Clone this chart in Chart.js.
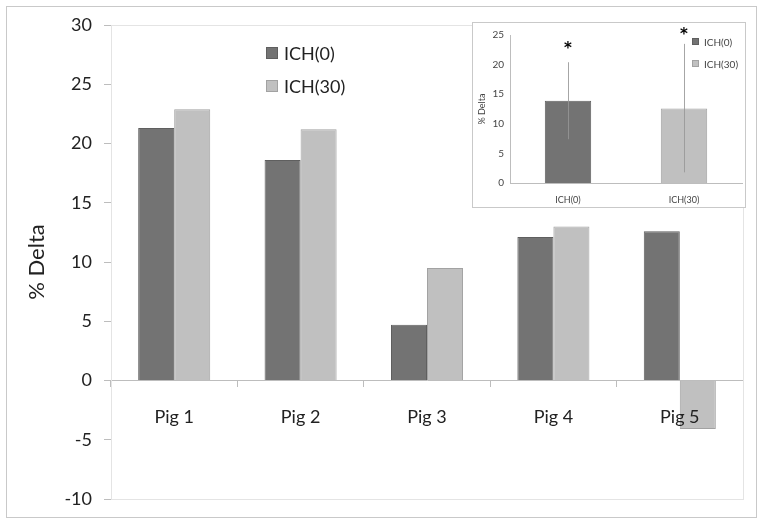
<!DOCTYPE html>
<html>
<head>
<meta charset="utf-8">
<script src="https://cdn.jsdelivr.net/npm/chart.js@4.4.0/dist/chart.umd.min.js"></script>
<style>
  html, body { margin: 0; padding: 0; background: #fff; }
  #frame { position: absolute; left: 6px; top: 6px; width: 751px; height: 512px; border: 1px solid #c9c9c9; box-sizing: border-box; }
  #mainChart { position: absolute; left: 0; top: 0; }
  #insetBox { position: absolute; left: 472px; top: 22px; width: 274px; height: 186px; border: 1px solid #c9c9c9; box-sizing: border-box; background: #fff; }
  #insetChart { position: absolute; left: 0; top: 0; }
</style>
</head>
<body>
<div id="frame"></div>
<canvas id="mainChart" width="764" height="526"></canvas>
<div id="insetBox"><canvas id="insetChart" width="272" height="184"></canvas></div>
<script>
const categories = ["Pig 1", "Pig 2", "Pig 3", "Pig 4", "Pig 5"];
const seriesNames = ["ICH(0)", "ICH(30)"];
const ich0 = [21.3, 18.6, 4.7, 12.1, 12.6];
const ich30 = [22.9, 21.2, 9.5, 13.0, -4.1];
const yMin = -10;
const yMax = 30;
const yStep = 5;

// inset: means with error bars
const insetCategories = ["ICH(0)", "ICH(30)"];
const insetMeans = [13.9, 12.6];
const insetErrLow = [7.4, 1.8];
const insetErrHigh = [20.4, 23.5];
const insetStars = [22.6, 24.9];
const insetMin = 0;
const insetMax = 25;

const darkFill = "#737373";
const darkLine = "#5f5f5f";
const lightFill = "#c0c0c0";
const lightLine = "#a2a2a2";
const axisGray = "#bdbdbd";

Chart.defaults.font.family = "Lato, 'Open Sans', sans-serif";
Chart.defaults.color = "#222";

const plotBorder = {
  id: "plotBorder",
  beforeDatasetsDraw(chart) {
    const a = chart.chartArea;
    const c = chart.ctx;
    c.save();
    c.strokeStyle = "#e4e4e4";
    c.lineWidth = 1;
    c.strokeRect(a.left + 0.5, a.top + 0.5, a.right - a.left, a.bottom - a.top);
    c.restore();
  }
};

// simple legend drawn at a fixed spot inside the plot
const boxLegend = {
  id: "boxLegend",
  afterDraw(chart, args, opts) {
    const c = chart.ctx;
    c.save();
    c.font = opts.size + "px Lato, 'Open Sans', sans-serif";
    c.textBaseline = "middle";
    opts.items.forEach((it, i) => {
      const y = opts.y + i * opts.gap;
      c.fillStyle = it.fill;
      c.fillRect(opts.x, y, opts.box, opts.box);
      c.strokeStyle = it.line;
      c.strokeRect(opts.x + 0.5, y + 0.5, opts.box - 1, opts.box - 1);
      c.fillStyle = opts.color;
      c.fillText(it.text, opts.x + opts.box + opts.space, y + opts.box / 2 + 1);
    });
    c.restore();
  }
};

new Chart(document.getElementById("mainChart"), {
  type: "bar",
  data: {
    labels: categories,
    datasets: [
      { label: seriesNames[0], data: ich0, backgroundColor: darkFill, borderColor: darkLine, borderWidth: 1 },
      { label: seriesNames[1], data: ich30, backgroundColor: lightFill, borderColor: lightLine, borderWidth: 1 }
    ]
  },
  options: {
    responsive: false,
    animation: false,
    categoryPercentage: 0.57,
    barPercentage: 1.0,
    layout: { padding: { left: 0, top: 25, right: 21, bottom: 27 } },
    plugins: {
      legend: { display: false },
      tooltip: { enabled: false },
      boxLegend: {
        x: 266, y: 47, box: 12, gap: 33, space: 6, size: 18, color: "#222",
        items: [
          { text: seriesNames[0], fill: darkFill, line: darkLine },
          { text: seriesNames[1], fill: lightFill, line: lightLine }
        ]
      }
    },
    scales: {
      y: {
        min: yMin,
        max: yMax,
        ticks: { stepSize: yStep, font: { size: 18 }, color: "#222", padding: 12 },
        grid: { drawOnChartArea: false, drawTicks: true, tickLength: 7, color: axisGray },
        border: { color: axisGray },
        title: { display: true, text: "% Delta", font: { size: 22 }, color: "#222", padding: { top: 24, bottom: 0 } },
        afterFit(s) { s.width = 111; }
      },
      x: {
        position: { y: 0 },
        offset: true,
        ticks: { font: { size: 18 }, color: "#222", padding: 20, z: 1 },
        grid: { drawOnChartArea: false, drawTicks: true, tickLength: 6, offset: true, color: axisGray },
        border: { color: axisGray }
      }
    }
  },
  plugins: [plotBorder, boxLegend]
});

const errorBars = {
  id: "errorBars",
  afterDatasetsDraw(chart) {
    const c = chart.ctx;
    const ys = chart.scales.y;
    const meta = chart.getDatasetMeta(0);
    c.save();
    meta.data.forEach((bar, i) => {
      const x = Math.round(bar.x) + 0.5;
      c.strokeStyle = "rgba(150,150,150,0.85)";
      c.lineWidth = 1;
      c.beginPath();
      c.moveTo(x, ys.getPixelForValue(insetErrLow[i]));
      c.lineTo(x, ys.getPixelForValue(insetErrHigh[i]));
      c.stroke();
      c.fillStyle = "#000";
      c.font = "bold 15px 'DejaVu Sans', sans-serif";
      c.textAlign = "center";
      c.textBaseline = "middle";
      c.fillText("*", bar.x, ys.getPixelForValue(insetStars[i]));
    });
    c.restore();
  }
};

new Chart(document.getElementById("insetChart"), {
  type: "bar",
  data: {
    labels: insetCategories,
    datasets: [
      { label: "mean", data: insetMeans, backgroundColor: [darkFill, lightFill], borderColor: [darkLine, lightLine], borderWidth: 1 }
    ]
  },
  options: {
    responsive: false,
    animation: false,
    categoryPercentage: 1.0,
    barPercentage: 0.4,
    layout: { padding: { left: 0, top: 7, right: 3, bottom: 0 } },
    plugins: {
      legend: { display: false },
      tooltip: { enabled: false },
      boxLegend: {
        x: 219, y: 15, box: 7, gap: 22, space: 5, size: 10, color: "#444",
        items: [
          { text: insetCategories[0], fill: darkFill, line: darkLine },
          { text: insetCategories[1], fill: lightFill, line: lightLine }
        ]
      }
    },
    scales: {
      y: {
        min: insetMin,
        max: insetMax,
        ticks: { stepSize: 5, font: { size: 10 }, color: "#444", padding: 6 },
        grid: { display: false, drawTicks: false },
        border: { color: axisGray },
        title: { display: true, text: "% Delta", font: { size: 9 }, color: "#444", padding: { top: 4, bottom: 0 } },
        afterFit(s) { s.width = 37; }
      },
      x: {
        ticks: { font: { size: 9 }, color: "#444", padding: 12 },
        grid: { display: false, drawTicks: false },
        border: { color: axisGray },
        afterFit(s) { s.height = 24; }
      }
    }
  },
  plugins: [errorBars, boxLegend]
});
</script>
</body>
</html>
